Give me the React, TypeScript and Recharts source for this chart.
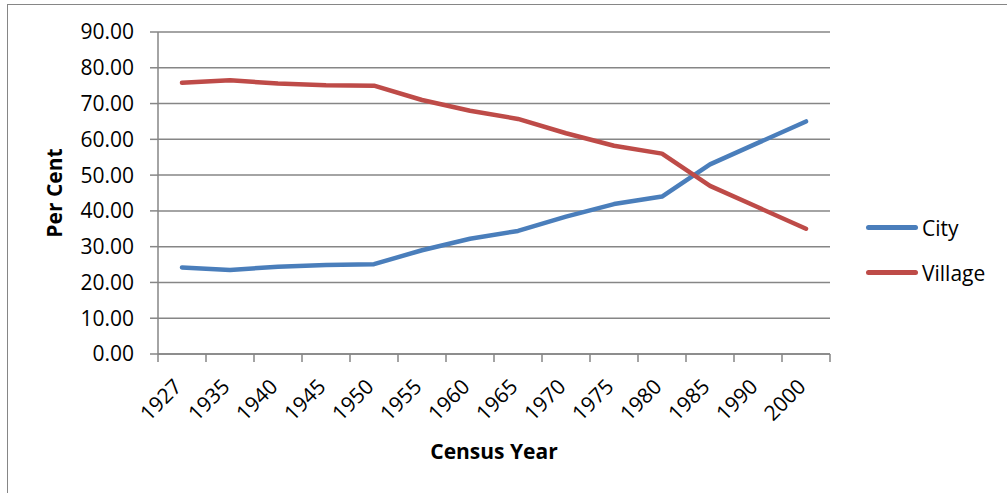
import { LineChart, Line, XAxis, YAxis, CartesianGrid, Legend } from 'recharts';

const years = ['1927', '1935', '1940', '1945', '1950', '1955', '1960', '1965', '1970', '1975', '1980', '1985', '1990', '2000'];
const city = [24.2, 23.5, 24.4, 24.9, 25.1, 29.0, 32.2, 34.4, 38.4, 41.9, 44.0, 53.0, 59.0, 65.0];
const village = [75.8, 76.5, 75.6, 75.1, 75.0, 71.0, 68.0, 65.7, 61.7, 58.2, 56.0, 47.0, 41.0, 35.0];
const yTicks = [0, 10, 20, 30, 40, 50, 60, 70, 80, 90];

// x = slot index + 0.5 so that tick marks fall between the categories, like Excel
const data = years.map((y, i) => ({ x: i + 0.5, year: y, City: city[i], Village: village[i] }));
const xTicks: number[] = [];
for (let i = 0; i <= years.length * 2; i++) xTicks.push(i / 2);

const FONT = '"Open Sans", sans-serif';
const GREY = '#868686';

function YearTick(props: any) {
  const { x, y, payload } = props;
  const v = payload.value as number;
  if (Number.isInteger(v)) {
    return <line x1={x} x2={x} y1={y} y2={y + 8} stroke={GREY} strokeWidth={1.5} />;
  }
  const label = years[Math.floor(v)];
  const px = x + 1;
  const py = y + 34;
  return (
    <text x={px} y={py} textAnchor="end" transform={`rotate(-45, ${px}, ${py})`} fontFamily={FONT} fontSize={21} fill="#000">
      {label}
    </text>
  );
}

function LegendBox() {
  const items = [
    { name: 'City', color: '#4a7ebb' },
    { name: 'Village', color: '#be4b48' },
  ];
  return (
    <div style={{ fontFamily: FONT, fontSize: 21, color: '#000' }}>
      {items.map(it => (
        <div key={it.name} style={{ display: 'flex', alignItems: 'center', height: 45 }}>
          <span style={{ display: 'inline-block', width: 52, height: 5, borderRadius: 3, background: it.color, marginRight: 4 }} />
          <span>{it.name}</span>
        </div>
      ))}
    </div>
  );
}

export default function App() {
  return (
    <div style={{ position: 'fixed', left: 0, top: 0, width: 1007, height: 493, overflow: 'hidden', background: '#fff' }}>
      <div style={{ position: 'absolute', left: 7, top: 4, width: 1100, height: 600, border: `1px solid ${GREY}` }} />
      <div style={{ position: 'absolute', left: 0, top: 0 }}>
        <LineChart width={1007} height={493} data={data} margin={{ top: 32, right: 37, left: 0, bottom: 0 }}>
          <CartesianGrid vertical={false} stroke={GREY} strokeWidth={1.5} />
          <XAxis
            type="number"
            dataKey="x"
            domain={[0, years.length]}
            ticks={xTicks}
            interval={0}
            tick={<YearTick />}
            tickLine={false}
            tickSize={0}
            tickMargin={0}
            height={139}
            axisLine={{ stroke: GREY, strokeWidth: 1.5 }}
            label={{ value: 'Census Year', position: 'insideBottom', offset: 34, fontFamily: FONT, fontSize: 21, fontWeight: 'bold', fill: '#000' }}
          />
          <YAxis
            domain={[0, 90]}
            ticks={yTicks}
            interval={0}
            width={158}
            tickSize={8}
            tickMargin={16}
            tickFormatter={(v: number) => v.toFixed(2)}
            tick={{ fontFamily: FONT, fontSize: 21, fill: '#000' }}
            tickLine={{ stroke: GREY, strokeWidth: 1.5 }}
            axisLine={{ stroke: GREY, strokeWidth: 1.5 }}
            label={{ value: 'Per Cent', angle: -90, position: 'insideLeft', offset: 55, fontFamily: FONT, fontSize: 21, fontWeight: 'bold', fill: '#000', style: { textAnchor: 'middle' } }}
          />
          <Legend
            layout="vertical"
            align="right"
            verticalAlign="top"
            content={<LegendBox />}
            wrapperStyle={{ left: 866, top: 205, width: 140 }}
          />
          <Line dataKey="City" stroke="#4a7ebb" strokeWidth={4.5} dot={false} strokeLinecap="round" strokeLinejoin="round" isAnimationActive={false} />
          <Line dataKey="Village" stroke="#be4b48" strokeWidth={4.5} dot={false} strokeLinecap="round" strokeLinejoin="round" isAnimationActive={false} />
        </LineChart>
      </div>
    </div>
  );
}
